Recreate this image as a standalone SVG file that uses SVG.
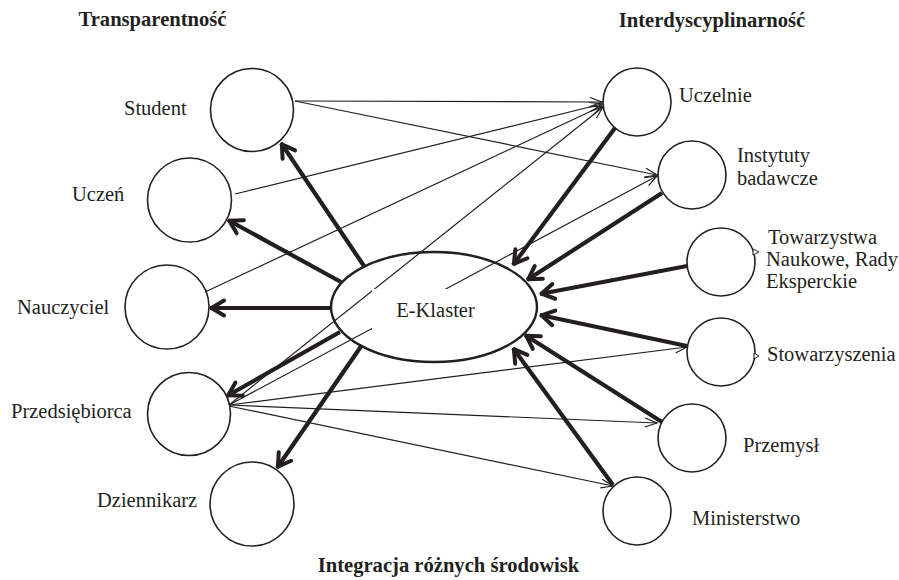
<svg xmlns="http://www.w3.org/2000/svg" width="899" height="580" viewBox="0 0 899 580">
<style>
  text { font-family: "Liberation Serif", "Times New Roman", serif; fill: #231f20; }
  .lbl { font-size: 20.5px; }
  .ttl { font-size: 20.6px; font-weight: bold; }
  .nd { fill: #ffffff; stroke: #231f20; stroke-width: 1.6; }
  .th { stroke: #231f20; stroke-width: 4.2; fill: none; marker-end: url(#thick); }
  .tn { stroke: #231f20; stroke-width: 1.2; fill: none; marker-end: url(#thin); }
  .tick { fill: #ffffff; stroke: #231f20; stroke-width: 1; }
</style>
<defs>
  <marker id="thick" viewBox="-18 -10 22 20" refX="0" refY="0" markerWidth="22" markerHeight="20" markerUnits="userSpaceOnUse" orient="auto">
    <path d="M-14,-7.5 L-1.5,0 L-14,7.5" fill="none" stroke="#231f20" stroke-width="4" stroke-linejoin="round" stroke-linecap="round"/>
  </marker>
  <marker id="thin" viewBox="-14 -7 16 14" refX="0" refY="0" markerWidth="16" markerHeight="14" markerUnits="userSpaceOnUse" orient="auto">
    <path d="M-12,-4.5 L0,0 L-12,4.5" fill="none" stroke="#231f20" stroke-width="1.2"/>
  </marker>
</defs>
<rect width="899" height="580" fill="#ffffff"/>

<text class="ttl" x="152.5" y="26" text-anchor="middle">Transparentność</text>
<text class="ttl" x="712" y="27" text-anchor="middle">Interdyscyplinarność</text>
<text class="ttl" x="448.5" y="572" text-anchor="middle">Integracja różnych środowisk</text>

<g id="student"><circle class="nd" cx="252" cy="110" r="41.5"/><text class="lbl" x="124" y="115">Student</text></g>
<g id="uczen"><circle class="nd" cx="189.5" cy="200" r="42"/><text class="lbl" x="72" y="201">Uczeń</text></g>
<g id="nauczyciel"><circle class="nd" cx="167" cy="307" r="42"/><text class="lbl" x="17" y="314">Nauczyciel</text></g>
<g id="przedsiebiorca"><circle class="nd" cx="189" cy="414" r="41.5"/><text class="lbl" x="11" y="418">Przedsiębiorca</text></g>
<g id="dziennikarz"><circle class="nd" cx="252" cy="504" r="42"/><text class="lbl" x="97" y="507">Dziennikarz</text></g>

<g id="uczelnie"><circle class="nd" cx="637" cy="102" r="34"/><text class="lbl" x="679" y="102">Uczelnie</text></g>
<g id="instytuty"><circle class="nd" cx="692" cy="175" r="34"/><text class="lbl" x="737" y="162">Instytuty</text><text class="lbl" x="737" y="185">badawcze</text></g>
<g id="towarzystwa"><circle class="nd" cx="721" cy="262" r="34"/><path class="tick" d="M753,249 L759,252 L753,255 Z"/><text class="lbl" x="768" y="244">Towarzystwa</text><text class="lbl" x="766" y="266">Naukowe, Rady</text><text class="lbl" x="766" y="288">Eksperckie</text></g>
<g id="stowarzyszenia"><circle class="nd" cx="721" cy="352" r="34"/><path class="tick" d="M754,353 L759,356 L754,359 Z"/><text class="lbl" x="767" y="361">Stowarzyszenia</text></g>
<g id="przemysl"><circle class="nd" cx="692" cy="438" r="34"/><text class="lbl" x="743" y="452">Przemysł</text></g>
<g id="ministerstwo"><circle class="nd" cx="637" cy="511" r="34"/><text class="lbl" x="692" y="525">Ministerstwo</text></g>

<g id="connectors">
  <line class="tn" x1="295" y1="101" x2="602" y2="102"/>
  <line class="tn" x1="295" y1="101" x2="657" y2="175"/>
  <line class="tn" x1="235" y1="194" x2="602" y2="104"/>
  <line class="tn" x1="205" y1="292" x2="602" y2="106"/>
  <line class="tn" x1="229" y1="405" x2="603" y2="107"/>
  <line class="tn" x1="229" y1="405" x2="657" y2="176"/>
  <line class="tn" x1="229" y1="405" x2="687" y2="347"/>
  <line class="tn" x1="229" y1="405" x2="657" y2="423"/>
  <line class="tn" x1="229" y1="406" x2="613" y2="486"/>

  <line class="th" x1="364" y1="266" x2="281" y2="143"/>
  <line class="th" x1="341" y1="282" x2="228" y2="220"/>
  <line class="th" x1="331" y1="308" x2="210" y2="308"/>
  <line class="th" x1="340" y1="332" x2="227" y2="396"/>
  <line class="th" x1="362" y1="345" x2="277" y2="468"/>

  <line class="th" x1="615" y1="128" x2="513" y2="265"/>
  <line class="th" x1="662" y1="193" x2="527" y2="280"/>
  <line class="th" x1="687" y1="266" x2="540" y2="294"/>
  <line class="th" x1="687" y1="346" x2="540" y2="315"/>
  <line class="th" x1="662" y1="422" x2="525" y2="335"/>
  <line class="th" x1="613" y1="485" x2="513" y2="348"/>
</g>

<g id="eklaster">
  <ellipse cx="434" cy="307" rx="103" ry="55" fill="none" stroke="#231f20" stroke-width="2.4"/>
  <rect x="372" y="289" width="126" height="41" fill="#ffffff"/>
  <text class="lbl" x="435.5" y="317" text-anchor="middle">E-Klaster</text>
</g>
</svg>
